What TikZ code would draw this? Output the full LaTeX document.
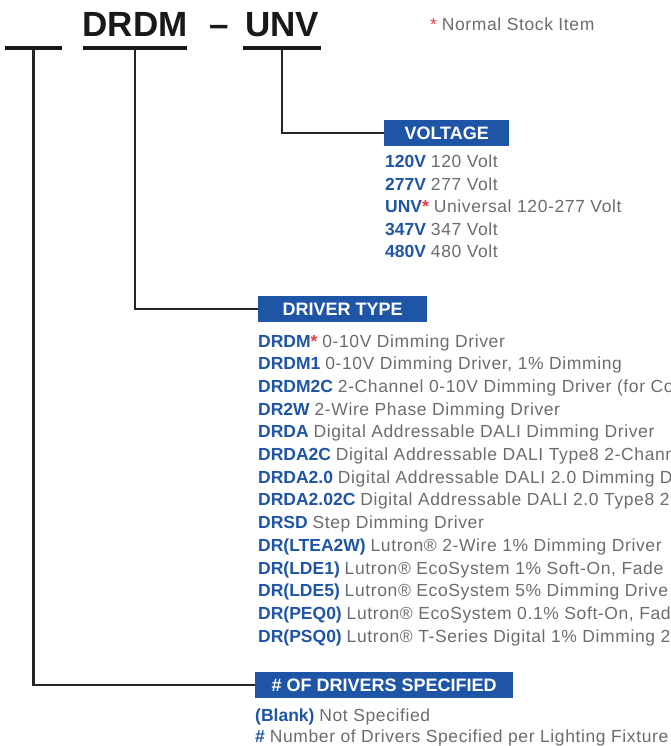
\documentclass[tikz,border=0pt]{standalone}
\usepackage{fontspec}
\setmainfont{Liberation Sans}
\newfontfamily\descfont[LetterSpace=3.5]{Liberation Sans}
\usetikzlibrary{positioning}
\definecolor{codeblue}{HTML}{1F55A6}
\definecolor{txtgray}{HTML}{6B6C6F}
\definecolor{starred}{HTML}{EE3A43}
\newcommand{\opt}[2]{{\bfseries\color{codeblue}#1} {\descfont #2}}
\newcommand{\stk}{\textcolor{starred}{*}}

\begin{document}
\begin{tikzpicture}
  [x=1pt,y=-1pt,
   title/.style={anchor=base,inner sep=0pt,font=\fontsize{35}{35}\selectfont\bfseries,text=black!90},
   bar/.style={fill=black!90,inner sep=0pt,minimum height=4.5pt},
   hdr/.style={anchor=north west,fill=codeblue,text=white,inner sep=0pt,minimum height=26pt,font=\fontsize{18}{18}\selectfont\bfseries},
   item/.style={anchor=base west,inner sep=0pt,text=txtgray,font=\fontsize{17.5}{17.5}\selectfont},
   lead/.style={line width=2.2pt,draw=black!85}]
  \useasboundingbox (0,0) rectangle (671,746);

  % part number
  \node[title] (tDrdm) at (135,37) {DRDM};
  \node[title] (tDash) at (219,37) {--};
  \node[title] (tUnv)  at (282,37) {UNV};
  \node[bar,minimum width=57pt]  (bar1) at (33.5,48) {};
  \node[bar,minimum width=104pt] (bar2) at (135,48)  {};
  \node[bar,minimum width=78pt]  (bar3) at (282,48)  {};
  \node[item] (note) at (430,31) {\stk\ {\descfont Normal Stock Item}};

  % headings
  \node[hdr,minimum width=125pt] (hVolt)  at (384,120) {VOLTAGE};
  \node[hdr,minimum width=169pt] (hType)  at (258,296) {DRIVER TYPE};
  \node[hdr,minimum width=258pt] (hCount) at (255,672) {\# OF DRIVERS SPECIFIED};

  % voltage
  \node[item] (v1) at (385,167.5) {\opt{120V}{120 Volt}};
  \node[item] (v2) at (385,190.1) {\opt{277V}{277 Volt}};
  \node[item] (v3) at (385,212.7) {\opt{UNV\stk}{Universal 120-277 Volt}};
  \node[item] (v4) at (385,235.3) {\opt{347V}{347 Volt}};
  \node[item] (v5) at (385,257.9) {\opt{480V}{480 Volt}};

  % driver type
  \node[item] (d1)  at (258,347.0) {\opt{DRDM\stk}{0-10V Dimming Driver}};
  \node[item] (d2)  at (258,369.7) {\opt{DRDM1}{0-10V Dimming Driver, 1\% Dimming}};
  \node[item] (d3)  at (258,392.4) {\opt{DRDM2C}{2-Channel 0-10V Dimming Driver (for Co}};
  \node[item] (d4)  at (258,415.1) {\opt{DR2W}{2-Wire Phase Dimming Driver}};
  \node[item] (d5)  at (258,437.8) {\opt{DRDA}{Digital Addressable DALI Dimming Driver}};
  \node[item] (d6)  at (258,460.5) {\opt{DRDA2C}{Digital Addressable DALI Type8 2-Chann}};
  \node[item] (d7)  at (258,483.2) {\opt{DRDA2.0}{Digital Addressable DALI 2.0 Dimming D}};
  \node[item] (d8)  at (258,505.9) {\opt{DRDA2.02C}{Digital Addressable DALI 2.0 Type8 2}};
  \node[item] (d9)  at (258,528.6) {\opt{DRSD}{Step Dimming Driver}};
  \node[item] (d10) at (258,551.3) {\opt{DR(LTEA2W)}{Lutron® 2-Wire 1\% Dimming Driver}};
  \node[item] (d11) at (258,574.0) {\opt{DR(LDE1)}{Lutron® EcoSystem 1\% Soft-On, Fade}};
  \node[item] (d12) at (258,596.7) {\opt{DR(LDE5)}{Lutron® EcoSystem 5\% Dimming Drive}};
  \node[item] (d13) at (258,619.4) {\opt{DR(PEQ0)}{Lutron® EcoSystem 0.1\% Soft-On, Fad}};
  \node[item] (d14) at (258,642.1) {\opt{DR(PSQ0)}{Lutron® T-Series Digital 1\% Dimming 2}};

  % number of drivers
  \node[item] (n1) at (255,721) {\opt{(Blank)}{Not Specified}};
  \node[item] (n2) at (255,742) {\opt{\#}{Number of Drivers Specified per Lighting Fixture}};

  \foreach \from/\to in {bar1/hCount,bar2/hType,bar3/hVolt}
    \draw[lead] (\from.south) |- (\to.west);
\end{tikzpicture}
\end{document}
